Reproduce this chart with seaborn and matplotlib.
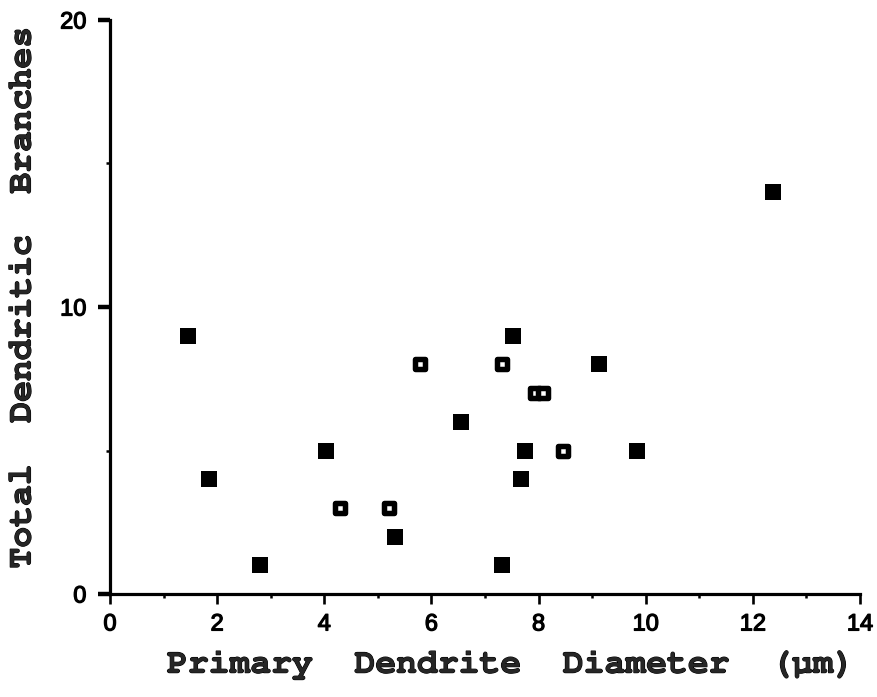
import matplotlib
matplotlib.use("Agg")
import matplotlib.pyplot as plt
import matplotlib.patheffects as pe
import seaborn as sns
import pandas as pd
from matplotlib.ticker import MultipleLocator

# Data
x_filled = [1.46, 1.85, 2.80, 4.03, 5.32, 6.55, 7.53, 7.32, 7.74, 7.68, 9.12, 9.83, 12.37]
y_filled = [9, 4, 1, 5, 2, 6, 9, 1, 5, 4, 8, 5, 14]
x_open = [5.78, 7.32, 7.94, 8.09, 8.45, 4.29, 5.21]
y_open = [8, 8, 7, 7, 5, 3, 3]

x_label = "Primary  Dendrite  Diameter  (\u00b5m)"
y_label = "Total  Dendritic  Branches"
x_ticks = [0, 2, 4, 6, 8, 10, 12, 14]
y_ticks = [0, 10, 20]

df = pd.DataFrame({
    "diameter": x_filled + x_open,
    "branches": y_filled + y_open,
    "group": ["filled"] * len(x_filled) + ["open"] * len(x_open),
})

sns.set_theme(style="ticks")
plt.rcParams["font.family"] = ["Liberation Sans", "DejaVu Sans"]

fig = plt.figure(figsize=(8.77, 6.97), dpi=100)
ax = fig.add_axes([110 / 877, 1 - 594 / 697, 750 / 877, 574 / 697])

sns.scatterplot(data=df[df.group == "filled"], x="diameter", y="branches",
                marker="s", s=117, color="black", linewidth=0, ax=ax,
                clip_on=False, zorder=3)
sns.scatterplot(data=df[df.group == "open"], x="diameter", y="branches",
                marker="s", s=47, facecolor="white", edgecolor="black",
                linewidth=3.95, ax=ax, clip_on=False, zorder=3)

ax.set_xlim(0, 14)
ax.set_ylim(0, 20)
ax.set_xticks(x_ticks)
ax.set_yticks(y_ticks)
ax.xaxis.set_minor_locator(MultipleLocator(1))
ax.yaxis.set_minor_locator(MultipleLocator(5))

for side in ["top", "right"]:
    ax.spines[side].set_visible(False)
for side in ["left", "bottom"]:
    ax.spines[side].set_linewidth(2.3)
    ax.spines[side].set_color("black")

ax.tick_params(axis="both", which="major", color="black", labelsize=17,
               labelcolor="black", direction="out")
ax.tick_params(axis="x", which="major", length=7, width=1.9, pad=7)
ax.tick_params(axis="y", which="major", length=9, width=3.2, pad=8)
ax.tick_params(axis="both", which="minor", length=3.2, width=1.8, color="black",
               direction="out")
thick = [pe.withStroke(linewidth=0.9, foreground="black")]
for lab in ax.get_xticklabels() + ax.get_yticklabels():
    lab.set_path_effects(thick)

mono = ["Courier New", "Nimbus Mono PS", "FreeMono", "Liberation Mono", "DejaVu Sans Mono"]
heavy = [pe.withStroke(linewidth=0.8, foreground="black")]
ax.set_xlabel(x_label, fontsize=25, fontweight="bold", family=mono, va="center",
              path_effects=heavy)
ax.set_ylabel(y_label, fontsize=25, fontweight="bold", family=mono, va="center",
              path_effects=heavy)
ax.xaxis.set_label_coords(0.535, -0.124)
ax.yaxis.set_label_coords(-0.116, 0.5166)

fig.savefig("out.png", dpi=100, facecolor="white")
